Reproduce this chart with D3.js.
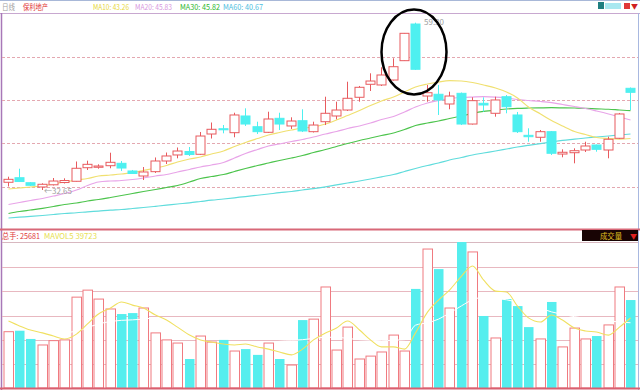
<!DOCTYPE html>
<html><head><meta charset="utf-8">
<script src="https://cdn.jsdelivr.net/npm/d3@7/dist/d3.min.js"></script>
<style>body{margin:0;background:#fff}svg{display:block}text{font-family:"Noto Sans CJK SC","Noto Sans",sans-serif}</style>
</head><body><svg id="c" width="640" height="390"></svg>
<script>
const openP  = [33.88,34.61,33.81,33.13,33.48,33.84,34.04,36.20,36.27,36.52,36.90,35.68,34.88,35.57,37.27,38.23,38.78,38.34,41.57,42.41,41.78,44.44,42.73,41.84,44.07,42.85,43.69,41.94,43.53,44.44,45.39,47.42,49.49,49.38,50.17,53.25,59.09,47.62,47.90,46.35,48.05,43.16,46.46,44.87,47.51,44.60,41.36,41.05,41.94,38.38,38.59,39.02,39.82,39.02,40.89,48.85];
const highP  = [34.77,36.04,33.92,33.72,34.56,34.51,37.19,37.32,36.74,38.59,37.27,35.84,36.31,37.83,38.62,39.42,39.50,41.89,43.40,43.00,44.96,45.66,43.53,45.12,44.96,44.23,45.51,43.53,47.51,46.72,49.90,49.22,51.24,52.20,53.63,57.66,59.30,49.38,49.38,48.31,48.18,47.42,47.42,47.51,47.78,45.08,42.48,42.21,42.05,39.13,39.29,40.34,39.90,41.14,44.92,48.98];
const lowP   = [33.21,33.92,33.29,32.65,33.37,33.69,34.00,35.84,36.04,36.11,35.68,35.20,34.24,35.36,36.79,37.70,38.07,38.23,40.85,41.68,41.05,42.85,41.57,41.73,42.21,42.37,41.89,41.81,43.00,43.91,45.23,46.72,48.42,49.22,50.09,53.20,51.77,46.72,44.60,45.51,43.00,43.08,45.12,44.33,44.87,41.73,40.34,40.34,38.23,37.86,36.90,38.70,38.75,37.70,40.77,45.39];
const closeP = [34.35,34.00,33.40,33.56,34.08,34.16,36.11,36.74,36.47,37.06,36.15,35.28,35.52,37.27,38.07,38.86,38.30,41.25,42.32,42.24,44.60,43.16,41.94,43.96,43.16,43.64,42.05,43.00,44.87,45.39,47.26,49.01,50.01,50.97,52.29,57.61,51.88,48.15,46.99,47.62,43.16,46.88,46.19,46.99,45.92,41.94,41.14,41.94,38.50,38.66,38.91,39.66,39.13,40.73,44.76,48.21];
const volume = [23300,23700,20300,17800,19600,19900,37600,40500,36800,32700,30600,31000,33100,22800,19900,18600,12000,21500,19000,19900,15300,16100,13700,18600,12000,9500,28100,28500,41800,15700,25200,12000,13200,14900,21900,15300,41000,57500,49200,33100,60400,56300,29800,20700,36800,33900,25200,20300,35600,17000,24800,20300,21500,26100,41800,36400];
const ma10 = [32.81,32.97,33.13,33.29,33.61,33.92,34.24,34.48,34.88,35.04,35.20,35.41,35.76,36.15,36.55,37.11,37.59,37.91,38.38,38.86,39.58,40.22,40.85,41.41,41.81,42.21,42.53,42.69,43.16,43.80,44.52,45.31,46.11,46.83,47.46,48.26,49.06,49.54,49.85,50.06,50.01,49.77,49.38,48.90,48.26,47.31,45.87,44.76,43.72,42.85,41.97,41.49,41.01,40.85,40.77,40.85];
const ma20 = [30.34,30.66,30.98,31.30,31.69,32.09,32.65,33.37,33.92,34.08,34.16,34.32,34.56,34.88,35.12,35.52,35.92,36.31,36.63,37.03,37.75,38.46,39.10,39.66,39.98,40.38,40.69,41.09,41.57,41.97,42.45,42.85,43.32,43.88,44.36,45.08,45.87,46.51,46.91,47.23,47.39,47.46,47.51,47.46,47.31,47.07,46.91,46.75,46.56,46.27,45.95,45.63,45.23,44.76,44.28,43.80];
const ma30 = [28.91,29.22,29.46,29.73,30.02,30.34,30.58,30.90,31.14,31.46,31.77,32.09,32.41,32.73,33.05,33.37,33.92,34.48,34.80,35.12,35.60,36.07,36.55,36.95,37.35,37.75,38.15,38.62,39.10,39.58,40.06,40.54,40.93,41.33,41.73,42.29,42.92,43.32,43.64,44.04,44.44,44.84,45.16,45.39,45.55,45.66,45.71,45.74,45.76,45.74,45.71,45.66,45.58,45.51,45.39,45.28];
const ma60 = [28.19,28.32,28.44,28.59,28.75,28.91,29.03,29.18,29.30,29.45,29.54,29.70,29.86,30.05,30.23,30.42,30.61,30.82,31.03,31.22,31.41,31.61,31.81,32.01,32.22,32.41,32.65,32.87,33.16,33.46,33.77,34.08,34.40,34.75,35.12,35.60,36.07,36.55,36.95,37.43,37.83,38.23,38.54,38.86,39.18,39.50,39.77,40.04,40.30,40.54,40.74,40.93,41.09,41.25,41.41,41.57];
const mavol5 = [27700,25700,24000,22800,21500,20300,22300,26500,30600,33100,35600,34300,33100,30200,28100,25200,21900,19900,19000,18200,17800,18200,17000,16100,14900,13700,16100,19900,22800,24800,27700,24000,19900,17000,17000,16100,22800,31400,36400,40500,46300,50500,44700,40100,39700,33900,29000,27300,30200,28100,24800,23600,23200,21900,25200,29000];
const mavol10 = [25000,24800,24500,24000,23500,23000,23500,25000,26500,27500,28000,28200,28500,29000,28500,27500,26500,25500,25000,24000,22500,21500,21000,20500,20000,19800,20000,20500,21000,21000,20500,20000,19800,19500,19800,20000,26000,27000,28500,31000,34000,36500,37500,37000,36500,35500,34500,33000,31500,30500,29500,28800,28200,27800,27300,27000];
const priceGrid = [33.13, 40.14, 46.99, 53.84];
const volGrid = [10000, 20000, 30000, 40000, 50000];
const headerItems = [
  {t:"日线", c:"#a0a0a0", x:2, w:13},
  {t:"保利地产", c:"#e03030", x:23, w:25},
  {t:"MA10: 43.26", c:"#e8d840", x:93, w:36},
  {t:"MA20: 45.83", c:"#d898e0", x:135, w:37},
  {t:"MA30: 45.82", c:"#30b830", x:180, w:40},
  {t:"MA60: 40.67", c:"#50c0e0", x:223, w:40}
];
const highLabel = "59.30", lowLabel = "←32.65";
const volTotal = "总手: 25681", volMA = "MAVOL5  39723", volTitle = "成交量";

const RED = "#e85a5e", CYAN = "#4ef0f0";
const svg = d3.select("#c");
const n = openP.length;
const x = d3.scaleBand().domain(d3.range(n)).range([2.6, 635.4]).paddingInner(0.12);
const y = d3.scaleLinear().domain([32.65, 59.30]).range([190, 22.7]);
const yv = d3.scaleLinear().domain([0, 60000]).range([388, 243]);
const cx = i => Math.round(x(i) + x.bandwidth()/2) + 0.5;
const fitText = (sel, w) => sel.attr("textLength", w).attr("lengthAdjust","spacingAndGlyphs");

// frame
svg.append("rect").attr("x",0).attr("y",0).attr("width",640).attr("height",390).attr("fill","#fff");
svg.append("line").attr("x1",0).attr("x2",640).attr("y1",0.5).attr("y2",0.5).attr("stroke","#a8b8d8");
svg.append("line").attr("x1",0).attr("x2",640).attr("y1",13.5).attr("y2",13.5).attr("stroke","#c8a8d0");
svg.append("line").attr("x1",1.5).attr("x2",1.5).attr("y1",13).attr("y2",390).attr("stroke","#a878b8").attr("stroke-width",1.5);
svg.append("line").attr("x1",638.5).attr("x2",638.5).attr("y1",13).attr("y2",390).attr("stroke","#a8b8e0");

// header
svg.selectAll("text.hd").data(headerItems).enter().append("text").attr("class","hd")
  .attr("x",d=>d.x).attr("y",10).attr("font-size",8).attr("fill",d=>d.c).text(d=>d.t)
  .attr("textLength",d=>d.w).attr("lengthAdjust","spacingAndGlyphs");
// top-right icons
svg.append("rect").attr("x",598).attr("y",2).attr("width",6).attr("height",7).attr("fill","#1f7f80");
svg.append("rect").attr("x",605).attr("y",3).attr("width",16).attr("height",6).attr("fill","#a8e8f0");
svg.append("rect").attr("x",624).attr("y",3).attr("width",6).attr("height",6).attr("fill","#e03838");
svg.append("text").attr("x",631).attr("y",9).attr("font-size",7).attr("fill","#d02020").text("▼");

// price grid
svg.selectAll("line.pg").data(priceGrid).enter().append("line").attr("class","pg")
  .attr("x1",2).attr("x2",638).attr("y1",d=>Math.round(y(d))+0.5).attr("y2",d=>Math.round(y(d))+0.5)
  .attr("stroke","#e4a8b0").attr("stroke-dasharray","3,2");

// MA lines
const line = arr => d3.line().x((d,i)=>cx(i)).y(d=>y(d)).curve(d3.curveMonotoneX)(arr);
const g = svg.append("g");
[[ma60,"#60dcdc"],[ma30,"#4cc44c"],[ma20,"#e8a4e8"],[ma10,"#f0e070"]].forEach(([a,c])=>{
  g.append("path").attr("d",line(a)).attr("fill","none").attr("stroke",c).attr("stroke-width",1.2);
});

// candles
const cg = svg.append("g");
d3.range(n).forEach(i=>{
  const up = closeP[i] >= openP[i];
  const col = up ? RED : CYAN;
  cg.append("line").attr("x1",cx(i)).attr("x2",cx(i)).attr("y1",y(highP[i])).attr("y2",y(lowP[i])).attr("stroke",col);
  const top = y(Math.max(openP[i],closeP[i])), bot = y(Math.min(openP[i],closeP[i]));
  cg.append("rect").attr("x",cx(i)-4.5).attr("width",9)
    .attr("y",top).attr("height",Math.max(1,bot-top))
    .attr("fill", up ? "#fff" : CYAN).attr("stroke",col);
});

// labels
svg.append("text").attr("x",424).attr("y",25).attr("font-size",8).attr("fill","#a0a0a0").text(highLabel);
svg.append("text").attr("x",44).attr("y",194).attr("font-size",8).attr("fill","#a0a0a0").text(lowLabel);

// ellipse
svg.append("ellipse").attr("cx",414).attr("cy",52).attr("rx",32.5).attr("ry",42.5)
  .attr("fill","none").attr("stroke","#000").attr("stroke-width",2.5);

// panel separator
svg.append("line").attr("x1",0).attr("x2",640).attr("y1",229.5).attr("y2",229.5).attr("stroke","#d86878").attr("stroke-width",2);
svg.append("line").attr("x1",2).attr("x2",638).attr("y1",242.5).attr("y2",242.5).attr("stroke","#d8b8c0");
fitText(svg.append("text").attr("x",2).attr("y",239).attr("font-size",8).attr("fill","#e03838").text(volTotal), 38);
fitText(svg.append("text").attr("x",44).attr("y",239).attr("font-size",8).attr("fill","#e8e050").text(volMA), 53);
svg.append("rect").attr("x",582).attr("y",230).attr("width",56).attr("height",11).attr("fill","#180404");
fitText(svg.append("text").attr("x",600).attr("y",239).attr("font-size",8).attr("fill","#e0c020").text(volTitle), 22);
svg.append("text").attr("x",630).attr("y",239).attr("font-size",7).attr("fill","#e02020").text("▼");

// volume grid
svg.selectAll("line.vg").data(volGrid).enter().append("line").attr("class","vg")
  .attr("x1",2).attr("x2",638).attr("y1",d=>Math.round(yv(d))+0.5).attr("y2",d=>Math.round(yv(d))+0.5)
  .attr("stroke","#e8b8c0");

// volume bars
const vg = svg.append("g");
d3.range(n).forEach(i=>{
  const up = closeP[i] >= openP[i];
  const r = vg.append("rect").attr("x",cx(i)-4.5).attr("width",9.5)
    .attr("y",yv(volume[i])).attr("height",388-yv(volume[i]));
  if (up) r.attr("fill","#fff").attr("stroke","#f07a80");
  else r.attr("fill","#55eeee");
});
const vline = arr => d3.line().x((d,i)=>cx(i)).y(d=>yv(d)).curve(d3.curveMonotoneX)(arr);
svg.append("path").attr("d",vline(mavol10)).attr("fill","none").attr("stroke","#ffffff").attr("stroke-width",1);
svg.append("path").attr("d",vline(mavol5)).attr("fill","none").attr("stroke","#f0e060").attr("stroke-width",1.1);
svg.append("line").attr("x1",0).attr("x2",640).attr("y1",388.5).attr("y2",388.5).attr("stroke","#d86070").attr("stroke-width",2);
</script></body></html>
